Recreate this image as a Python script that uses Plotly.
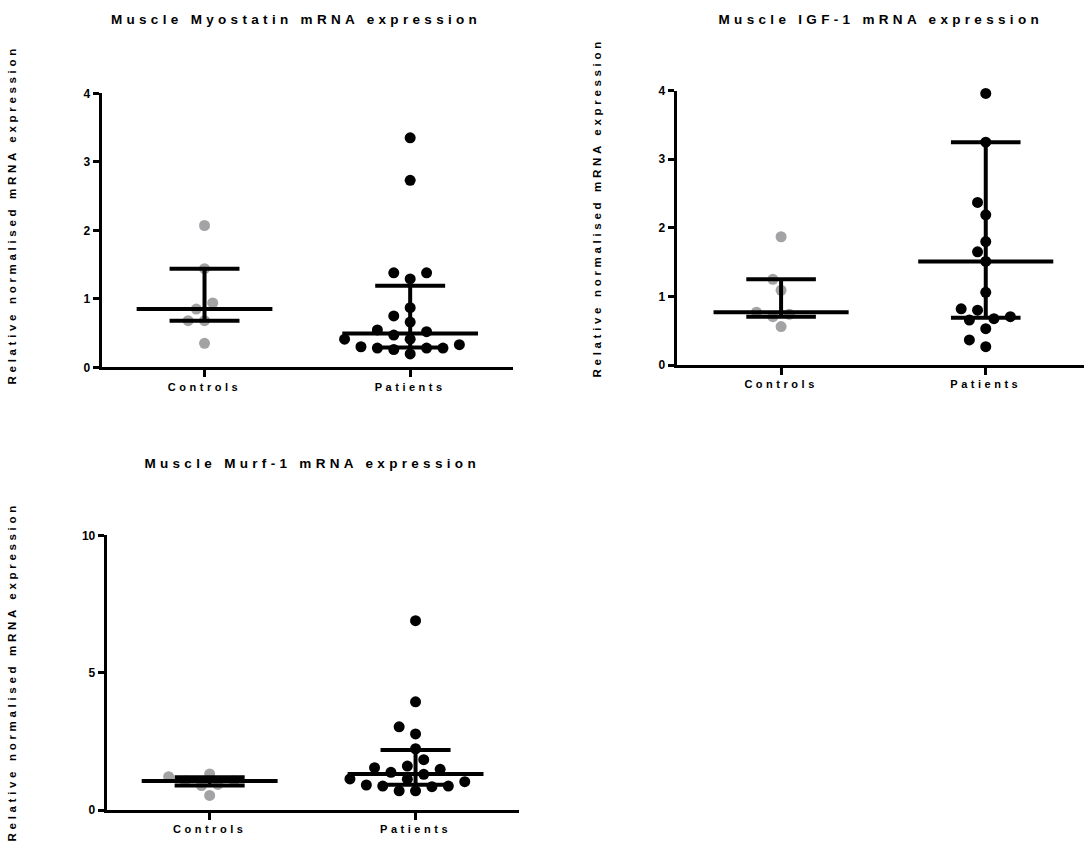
import numpy as np
import plotly.graph_objects as go

W, H = 1084, 860

categories = ["Controls", "Patients"]
titles = ["Muscle Myostatin mRNA expression", "Muscle IGF-1 mRNA expression", "Muscle Murf-1 mRNA expression"]
ytitle = "Relative normalised mRNA expression"

# Panel 1: Myostatin
myo_controls = [2.07, 1.44, 0.94, 0.85, 0.68, 0.68, 0.35]
myo_patients = [3.35, 2.73, 1.38, 1.38, 1.29, 0.87, 0.75, 0.66, 0.52, 0.47, 0.545,
                0.41, 0.41, 0.33, 0.30, 0.28, 0.28, 0.195, 0.26, 0.28]
# Panel 2: IGF-1
igf_controls = [1.87, 1.25, 1.09, 0.74, 0.705, 0.77, 0.56]
igf_patients = [3.96, 3.25, 2.37, 2.19, 1.80, 1.65, 1.51, 1.06, 0.82, 0.80, 0.705,
                0.656, 0.676, 0.53, 0.365, 0.267]
# Panel 3: Murf-1
murf_controls = [1.31, 1.21, 1.06, 0.93, 0.89, 1.06, 0.53]
murf_patients = [6.89, 3.94, 3.03, 2.77, 2.23, 1.83, 1.60, 1.48, 1.54, 1.37, 1.30,
                 1.13, 1.03, 1.12, 0.87, 0.85, 0.87, 0.91, 0.70, 0.70]

# Median and interquartile range (as drawn): [controls, patients]
myo_median = [0.85, 0.495]
myo_q1 = [0.68, 0.29]
myo_q3 = [1.44, 1.19]
igf_median = [0.77, 1.51]
igf_q1 = [0.705, 0.69]
igf_q3 = [1.25, 3.25]
murf_median = [1.06, 1.31]
murf_q1 = [0.89, 0.92]
murf_q3 = [1.19, 2.18]

y_ticks = [[0, 1, 2, 3, 4], [0, 1, 2, 3, 4], [0, 5, 10]]
y_ranges = [[0, 4], [0, 4], [0, 10]]

# ---- layout geometry (pixels) ----
panels = [
    dict(xpx=(101.7, 513.0), ypx=(93.3, 367.3), xr=[-0.5, 1.5]),
    dict(xpx=(676.7, 1084.0), ypx=(90.7, 365.0), xr=[-0.51, 1.48]),
    dict(xpx=(106.7, 518.5), ypx=(535.3, 810.0), xr=[-0.5, 1.5]),
]
title_pos = [(296, 19), (881, 19), (312, 463)]
ytitle_pos = [(12, 215), (597, 208), (12, 672)]

data = [
    (myo_controls, myo_patients, myo_median, myo_q1, myo_q3),
    (igf_controls, igf_patients, igf_median, igf_q1, igf_q3),
    (murf_controls, murf_patients, murf_median, murf_q1, murf_q3),
]

GRAY = "#A3A3A6"
BLACK = "#000000"
FONT = "Liberation Sans"
MS = 11


def swarm(vals, ppu_x, ppu_y, diam=12.5, step=8.2):
    vals = np.asarray(vals, dtype=float)
    order = np.argsort(vals)
    placed = []
    offs = np.zeros(len(vals))
    cands = [0.0] + [s * j * step for j in range(1, 30) for s in (-1, 1)]
    for i in order:
        y = vals[i] * ppu_y
        chosen = 0.0
        for c in cands:
            if all((c - px) ** 2 + (y - py) ** 2 >= diam ** 2 for px, py in placed):
                chosen = c
                break
        placed.append((chosen, y))
        offs[i] = chosen / ppu_x
    return offs


fig = go.Figure()
layout = {}
for k, (p, d) in enumerate(zip(panels, data)):
    n = "" if k == 0 else str(k + 1)
    xa, ya = "x" + n, "y" + n
    x0, x1 = p["xpx"]
    y0, y1 = p["ypx"]
    ppu_x = (x1 - x0) / (p["xr"][1] - p["xr"][0])
    ppu_y = (y1 - y0) / (y_ranges[k][1] - y_ranges[k][0])
    ctrl, pat, med, q1, q3 = d
    for gi, (vals, col) in enumerate([(ctrl, GRAY), (pat, BLACK)]):
        offs = swarm(vals, ppu_x, ppu_y)
        fig.add_trace(go.Scatter(
            x=gi + offs, y=vals, mode="markers", xaxis=xa, yaxis=ya,
            marker=dict(size=MS, color=col, line=dict(width=0)),
            showlegend=False, cliponaxis=False, hoverinfo="y"))
    for gi in range(2):
        lw = dict(color=BLACK, width=4)
        fig.add_trace(go.Scatter(x=[gi - 0.33, gi + 0.33], y=[med[gi], med[gi]], mode="lines",
                                 line=lw, xaxis=xa, yaxis=ya, showlegend=False, hoverinfo="skip"))
        for q in (q1[gi], q3[gi]):
            fig.add_trace(go.Scatter(x=[gi - 0.17, gi + 0.17], y=[q, q], mode="lines",
                                     line=lw, xaxis=xa, yaxis=ya, showlegend=False, hoverinfo="skip"))
        fig.add_trace(go.Scatter(x=[gi, gi], y=[q1[gi], q3[gi]], mode="lines",
                                 line=lw, xaxis=xa, yaxis=ya, showlegend=False, hoverinfo="skip"))

    tickfont = dict(family=FONT, size=11, color=BLACK, weight="bold")
    layout["xaxis" + n] = dict(
        domain=[x0 / W, x1 / W], range=p["xr"], anchor=ya,
        tickmode="array", tickvals=[0, 1], ticktext=categories,
        showline=True, linewidth=3, linecolor=BLACK, ticks="outside",
        ticklen=7, tickwidth=3, tickcolor=BLACK, showgrid=False, zeroline=False,
        tickfont=tickfont, fixedrange=True, automargin=False)
    layout["yaxis" + n] = dict(
        domain=[1 - y1 / H, 1 - y0 / H], range=y_ranges[k], anchor=xa,
        tickmode="array", tickvals=y_ticks[k],
        showline=True, linewidth=3, linecolor=BLACK, ticks="outside",
        ticklen=6, tickwidth=3, tickcolor=BLACK, showgrid=False, zeroline=False,
        tickfont=dict(family=FONT, size=12, color=BLACK, weight="bold"),
        fixedrange=True, automargin=False)

annotations = []
for k in range(3):
    tx, ty = title_pos[k]
    annotations.append(dict(text=titles[k], x=tx / W, y=1 - ty / H, xref="paper", yref="paper",
                            showarrow=False, xanchor="center", yanchor="middle",
                            font=dict(family=FONT, size=13.5, color=BLACK, weight="bold")))
    ax_, ay_ = ytitle_pos[k]
    annotations.append(dict(text=ytitle, x=ax_ / W, y=1 - ay_ / H, xref="paper", yref="paper",
                            showarrow=False, xanchor="center", yanchor="middle", textangle=-90,
                            font=dict(family=FONT, size=11.5, color=BLACK, weight="bold")))

fig.update_layout(
    width=W, height=H, margin=dict(l=0, r=0, t=0, b=0, autoexpand=False),
    paper_bgcolor="white", plot_bgcolor="white",
    annotations=annotations, showlegend=False, **layout)

post = """
(function(){
  document.documentElement.style.margin = '0';
  document.documentElement.style.overflow = 'hidden';
  document.body.style.margin = '0';
  document.body.style.overflow = 'hidden';
  var els = document.querySelectorAll('.xtick text, .x2tick text, .x3tick text, .annotation-text');
  els.forEach(function(t){ t.style.letterSpacing = '0.32em'; });
})();
"""
fig.write_html("out.html", post_script=post, config={"displayModeBar": False})
